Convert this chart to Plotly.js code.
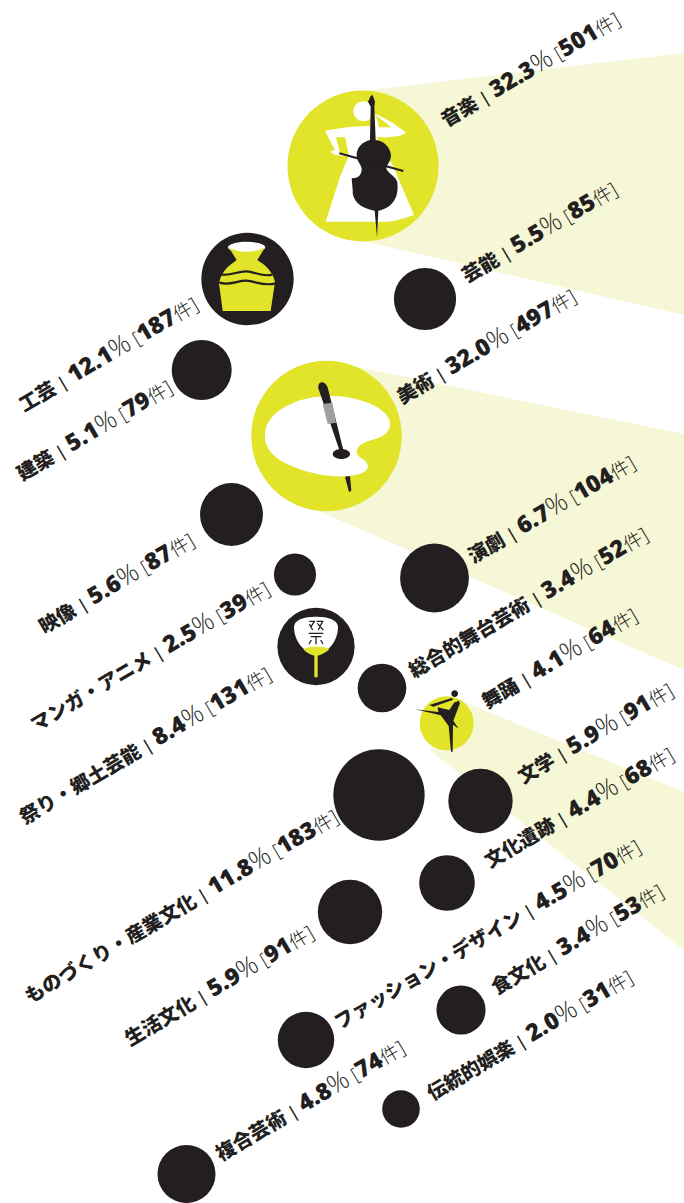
<!DOCTYPE html>
<html><head><meta charset="utf-8">
<script src="https://cdn.plot.ly/plotly-3.0.1.min.js"></script>
<style>html,body{margin:0;padding:0;background:#fff}#c{width:684px;height:1203px}</style>
</head><body><div id="c"></div>
<script>
const categories=['音楽','芸能','美術','工芸','建築','映像','マンガ・アニメ','祭り・郷土芸能','総合的舞台芸術','演劇','舞踊','文学','文化遺跡','ものづくり・産業文化','生活文化','ファッション・デザイン','食文化','複合芸術','伝統的娯楽'];
const percents=[32.3,5.5,32.0,12.1,5.1,5.6,2.5,8.4,3.4,6.7,4.1,5.9,4.4,11.8,5.9,4.5,3.4,4.8,2.0];
const counts=[501,85,497,187,79,87,39,131,52,104,64,91,68,183,91,70,53,74,31];
const highlighted=['音楽','美術','舞踊'];
const bubbleX=[363,425,326.5,247.5,201.7,231.5,295,316,382,434.5,446.7,480.5,447,379,350,306,461,186.5,401];
const bubbleY=[166,299,436,279,370,514.5,574.5,646.5,688,578,723.3,801,883,795,912,1040,1010,1174,1109];
const labelX=[529,538,485,107,93,115,149,144,527,550,558,594,578,180,218,486,576,309,528];
const labelY=[67,230,344,352,428,581,654,743,600,507,656,731,805,904,983,932,937,1098,1033];

const INK='#231f20',YEL='#e2e42a',BEAM='#f5f7d6',GREY='#9d9fa2';
const tf=(p,ox,oy)=>p.replace(/(-?\d+(?:\.\d+)?),(-?\d+(?:\.\d+)?)/g,(m,a,b)=>(ox+a/3).toFixed(2)+','+(oy+b/3).toFixed(2));
const ell=(cx,cy,rx,ry)=>`M${cx-rx},${cy} C${cx-rx},${cy-ry*.55} ${cx-rx*.55},${cy-ry} ${cx},${cy-ry} C${cx+rx*.55},${cy-ry} ${cx+rx},${cy-ry*.55} ${cx+rx},${cy} C${cx+rx},${cy+ry*.55} ${cx+rx*.55},${cy+ry} ${cx},${cy+ry} C${cx-rx*.55},${cy+ry} ${cx-rx},${cy+ry*.55} ${cx-rx},${cy} Z`;
const fill=(d,c,ox,oy)=>({type:'path',layer:'above',xref:'x',yref:'y',path:tf(d,ox,oy),fillcolor:c,line:{width:0}});
const stroke=(d,c,w,ox,oy)=>({type:'path',layer:'above',xref:'x',yref:'y',path:tf(d,ox,oy),line:{color:c,width:w}});

const beams=['M363,91 L684,53 L684,315 L363,241 Z','M352,366 L684,434 L684,670 L316,510 Z','M452,697 L684,792 L684,950 L430,750 Z'];
const shapes=beams.map(p=>({type:'path',layer:'below',xref:'x',yref:'y',path:p,fillcolor:BEAM,line:{width:0}}));

let o=[280,0];
shapes.push(
 fill(ell(250,334,30,30),'#fff',...o),
 fill('M135,393 C180,382 240,378 272,378 L272,345 L285,342 C310,350 350,375 378,398 C365,410 330,412 290,412 L340,500 L402,645 C370,655 345,665 320,665 L137,665 L180,530 L205,470 L165,464 L150,455 L165,450 Z','#fff',...o),
 fill('M168,412 L195,412 L207,468 L180,458 Z',YEL,...o),
 fill('M285,345 C300,355 320,368 332,382 L296,382 L292,360 Z',YEL,...o),
 fill('M272,288 L278,285 L285,305 L283,320 L287,420 C310,422 330,440 333,465 C333,485 322,490 319,505 C322,520 350,530 352,548 C358,600 330,625 295,632 L291,712 L284,632 C240,625 215,600 218,570 L215,535 C235,535 245,525 245,508 C245,495 232,485 230,470 C228,440 250,425 270,420 L272,320 L264,305 Z',INK,...o),
 stroke('M178,460 L370,513',INK,2,...o),
 fill(ell(740,82,56,17),'#fff',0,220),
 fill('M685,80 C710,100 770,100 796,80 L772,120 C795,135 815,150 825,185 L812,273 L668,273 L657,190 C665,150 690,135 710,120 Z',YEL,0,220),
 stroke('M662,163 C690,170 715,152 740,154 C765,156 790,172 816,164',INK,2.2,0,220),
 stroke('M658,188 C690,198 715,180 740,182 C765,184 795,200 826,190',INK,2.2,0,220),
 fill('M795,640 C800,570 900,525 1000,528 C1090,530 1170,570 1170,610 C1170,650 1130,655 1100,665 C1070,675 1060,700 1085,715 C1110,730 1110,750 1085,760 C1030,780 940,765 880,740 C830,720 790,690 795,640 Z','#fff',0,220),
 fill('M955,505 C952,480 980,480 985,510 L1030,690 L1018,690 Z',INK,0,220),
 fill('M968,552 L997,548 L1008,608 L983,612 Z',GREY,0,220),
 fill(ell(1024,702,26,15),INK,0,220),
 fill('M1035,770 L1050,768 L1054,812 L1047,816 Z',INK,0,220),
 fill('M72,82 C72,58 105,50 138,50 C170,50 204,58 204,82 C204,120 178,155 143,166 L133,166 C98,155 72,120 72,82 Z','#fff',270,600),
 fill('M100,148 C115,138 165,138 178,148 C168,158 155,164 143,167 L143,232 L133,232 L133,167 C121,164 108,158 100,148 Z',YEL,270,600),
 stroke('M118,64 L133,64 L122,82 M118,72 L128,90 M140,64 L158,64 L145,90 M142,70 L160,90 M116,100 L160,100 M122,110 L154,110 M138,110 L138,133 M124,120 L117,132 M152,120 L159,132',INK,1.3,270,600),
 fill(ell(554,281,10,10),INK,270,600),
 fill('M478,315 L545,294 L550,299 L490,320 Z',INK,270,600),
 fill('M435,328 L505,336 L503,322 L538,330 L552,308 L566,302 L570,310 L550,362 L566,386 L549,374 L548,455 L543,455 L536,378 L512,346 Z',INK,270,600)
);

const fmt=i=>{
 const bold=(s,z)=>`<span style="font-weight:800;font-size:${z}px">${s}</span>`;
 const light=(s,z,w=300)=>`<span style="font-weight:${w};font-size:${z}px">${s}</span>`;
 return `${bold(categories[i],19.5)}${light(' | ',17,600)}${bold(percents[i].toFixed(1),23.5)}${light('%',26)}${light(' [',19)}${bold(counts[i],23.5)}${light('件',19)}${light(']',20)}`;
};
const annotations=categories.map((c,i)=>({xref:'x',yref:'y',x:labelX[i],y:labelY[i],xanchor:'center',yanchor:'middle',showarrow:false,textangle:-30.5,text:fmt(i),font:{family:'"Open Sans","Noto Sans CJK JP",sans-serif',size:20,color:INK}}));

Plotly.newPlot('c',[{type:'scatter',mode:'markers',x:bubbleX,y:bubbleY,text:categories,hoverinfo:'text',
 marker:{size:counts,sizemode:'area',sizeref:2/(6.75*6.75),color:categories.map(c=>highlighted.includes(c)?YEL:INK),line:{width:0},opacity:1}}],
 {width:684,height:1203,margin:{l:0,r:0,t:0,b:0},paper_bgcolor:'#fff',plot_bgcolor:'#fff',showlegend:false,
  xaxis:{range:[0,684],visible:false,fixedrange:true},yaxis:{range:[1203,0],visible:false,fixedrange:true},shapes,annotations},
 {displayModeBar:false,responsive:false});
</script></body></html>
